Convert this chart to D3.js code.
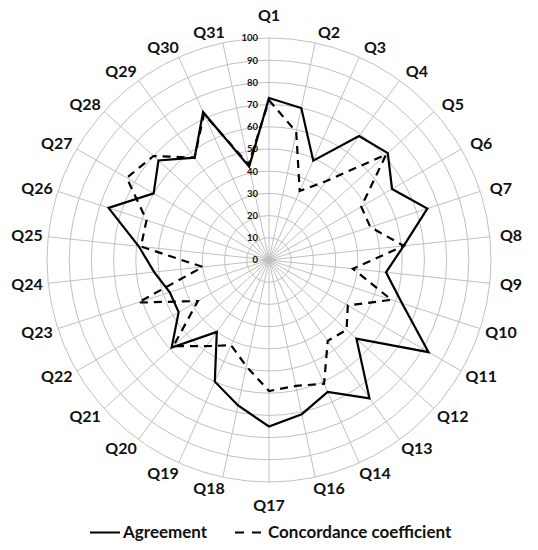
<!DOCTYPE html>
<html>
<head>
<meta charset="utf-8">
<script src="https://cdn.jsdelivr.net/npm/d3@7"></script>
<style>
  html, body { margin: 0; padding: 0; background: #fff; }
  svg { display: block; }
  text { font-family: Lato, "Open Sans", sans-serif; font-weight: bold; fill: #111; }
</style>
</head>
<body>
<svg id="chart" width="538" height="550"></svg>
<script>
const categories = ["Q1","Q2","Q3","Q4","Q5","Q6","Q7","Q8","Q9","Q10","Q11","Q12","Q13","Q14",
  "Q16","Q17","Q18","Q19","Q20","Q21","Q22","Q23","Q24","Q25","Q26","Q27","Q28","Q29","Q30","Q31"];
const agreement = [73,70,49,69,72,64,75,61,53,63,83,53,77,65,
  71,75,67,60,40,59,47,47,52,59,76,60,67,57,73,43];
const concordance = [72,59,34,44,71,48,48,61,38,58,41,47,45,61,
  58,59,49,42,48,58,37,62,30,58,58,74,70,57,72,44];
const ticks = [0,10,20,30,40,50,60,70,80,90,100];
const seriesNames = ["Agreement","Concordance coefficient"];

const svg = d3.select("#chart");
const cx = 269, cy = 260, R = 222;
const g = svg.append("g").attr("transform", `translate(${cx},${cy})`);

const r = d3.scaleLinear().domain([0,100]).range([0,R]);
const angle = d3.scaleLinear().domain([0, categories.length]).range([0, 2*Math.PI]);
const gridColor = "#c0c0c0";

// circular gridlines
g.selectAll("circle.grid").data(ticks.filter(t => t > 0)).join("circle")
  .attr("class","grid").attr("r", d => r(d))
  .attr("fill","none").attr("stroke", gridColor).attr("stroke-width", 1);

// spokes
g.selectAll("line.spoke").data(categories).join("line")
  .attr("class","spoke")
  .attr("x1",0).attr("y1",0)
  .attr("x2",(d,i) => Math.sin(angle(i))*r(100))
  .attr("y2",(d,i) => -Math.cos(angle(i))*r(100))
  .attr("stroke", gridColor).attr("stroke-width", 1);

// tick labels
g.selectAll("text.tick").data(ticks).join("text")
  .attr("class","tick")
  .attr("x",-11).attr("y", d => -r(d)).attr("dy","0.35em")
  .attr("text-anchor","end")
  .style("font-size","9.5px")
  .text(d => d);

// series
const line = d3.lineRadial()
  .angle((d,i) => angle(i))
  .radius(d => r(d))
  .curve(d3.curveLinearClosed);

g.append("path").datum(concordance)
  .attr("d", line).attr("fill","none").attr("stroke","#000")
  .attr("stroke-width",2.2).attr("stroke-dasharray","8,6");
g.append("path").datum(agreement)
  .attr("d", line).attr("fill","none").attr("stroke","#000")
  .attr("stroke-width",2.2).attr("stroke-linejoin","miter");

// category labels
g.selectAll("text.cat").data(categories).join("text")
  .attr("class","cat")
  .attr("x",(d,i) => {
    const s = Math.sin(angle(i));
    if (Math.abs(s) < 1e-6) return 0;
    return s*231.4 + Math.sign(s)*11.9;
  })
  .attr("y",(d,i) => {
    const s = Math.sin(angle(i)), c = Math.cos(angle(i));
    if (Math.abs(s) < 1e-6) return -c*245;
    return -c*233;
  })
  .attr("dy","0.36em")
  .attr("text-anchor","middle")
  .style("font-size","16px")
  .text(d => d);

// legend
const lg = svg.append("g");
lg.append("line").attr("x1",90).attr("x2",120).attr("y1",532.5).attr("y2",532.5)
  .attr("stroke","#000").attr("stroke-width",2);
lg.append("text").attr("x",123).attr("y",538).style("font-size","17px").text(seriesNames[0]);
lg.append("line").attr("x1",235).attr("x2",261).attr("y1",532.5).attr("y2",532.5)
  .attr("stroke","#000").attr("stroke-width",2).attr("stroke-dasharray","9,8");
lg.append("text").attr("x",268).attr("y",538).style("font-size","17px").text(seriesNames[1]);
</script>
</body>
</html>
